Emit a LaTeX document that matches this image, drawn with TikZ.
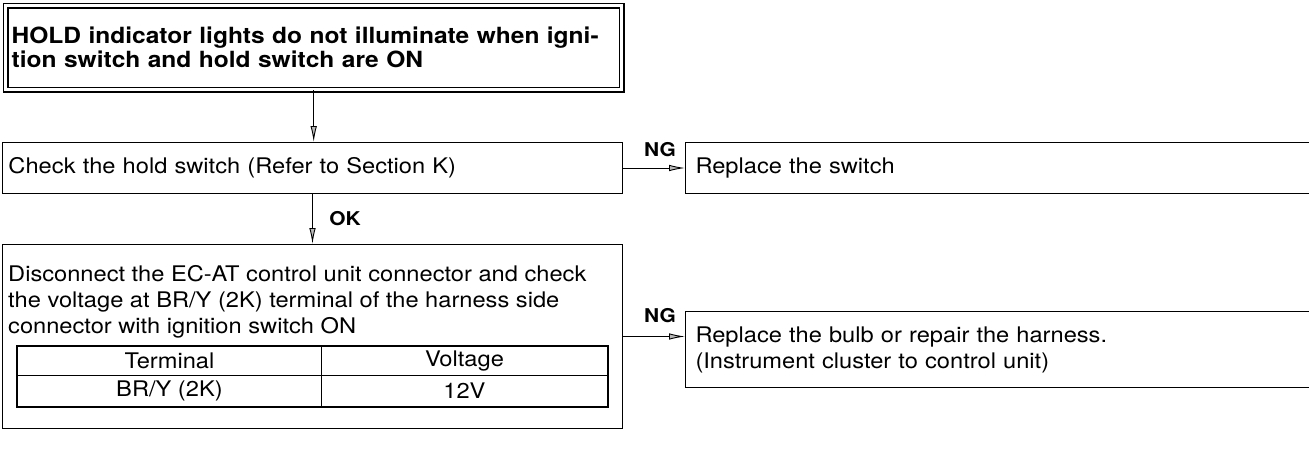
\documentclass[tikz,border=0pt]{standalone}
\usepackage{fontspec}
\setmainfont{TeX Gyre Heros}[FakeStretch=1.1]
\usetikzlibrary{arrows.meta}
\begin{document}
\begin{tikzpicture}[x=1pt,y=-1pt,
  bodyfont/.style={font=\fontsize{21.5}{26}\selectfont},
  boxbase/.style={draw,line width=1pt,anchor=north west,inner ysep=0pt,inner xsep=6pt,align=left,bodyfont},
  txt/.style={anchor=north west,inner sep=0pt,align=left,bodyfont},
  cell/.style={draw,line width=0.9pt,anchor=north west,inner sep=0pt,font=\fontsize{21.5}{24}\selectfont},
  lbl/.style={font=\bfseries\fontsize{19}{20}\selectfont,inner sep=0pt},
  arr/.style={line width=0.9pt,-{Latex[length=16pt,width=6.5pt,open,fill=gray!55]}}]
\useasboundingbox (0,0) rectangle (1309,450);
% title box
\node[boxbase,double,line width=1.4pt,double distance=3pt,minimum width=616pt,minimum height=84pt,
  text width=604pt,font=\bfseries\fontsize{22.3}{24}\selectfont] (title) at (5,5)
  {HOLD indicator lights do not illuminate when igni-\\tion switch and hold switch are ON};
% check box
\node[boxbase,minimum width=620pt,minimum height=51pt,text width=608pt] (check) at (2,142)
  {Check the hold switch (Refer to Section K)};
\node[boxbase,minimum width=720pt,minimum height=51pt,text width=700pt] (rsw) at (685,142)
  {Replace the switch};
% disconnect box
\node[boxbase,minimum width=620pt,minimum height=184pt] (dbox) at (2,244) {};
\node[txt] (dtext) at (8,265) {Disconnect the EC-AT control unit connector and check\\
  the voltage at BR/Y (2K) terminal of the harness side\\connector with ignition switch ON};
\node[cell,minimum width=304pt,minimum height=29pt] (t1) at (17,346) {Terminal};
\node[cell,minimum width=286pt,minimum height=29pt] (t2) at (321,346) {Voltage};
\node[cell,minimum width=304pt,minimum height=31pt] (t3) at (17,375) {BR/Y (2K)};
\node[cell,minimum width=286pt,minimum height=31pt] (t4) at (321,375) {12V};
\draw[line width=1.5pt] (t1.north west) rectangle (t4.south east);
% bulb box
\node[boxbase,minimum width=720pt,minimum height=76pt,text width=700pt] (bulb) at (685,311)
  {Replace the bulb or repair the harness.\\(Instrument cluster to control unit)};
% connectors
\draw[arr] (title.south) -- (title.south |- check.north);
\draw[arr] (check.south) -- (check.south |- dbox.north);
\draw[arr] (check.east) -- (check.east -| rsw.west);
\draw[arr] (dbox.east) -- (dbox.east -| bulb.west);
% labels
\node[lbl] (ng1) at (660,150) {NG};
\node[lbl] (ok) at (345,219) {OK};
\node[lbl] (ng2) at (660,316) {NG};
\end{tikzpicture}
\end{document}
